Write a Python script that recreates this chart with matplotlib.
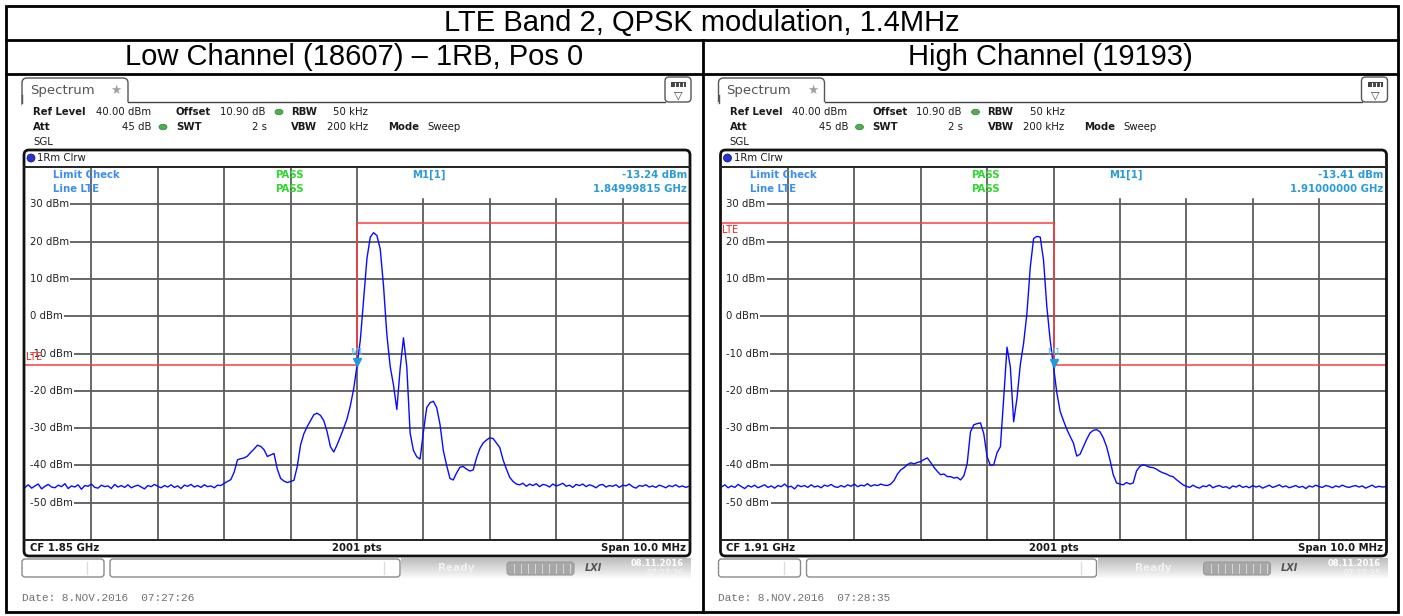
import numpy as np
import matplotlib.pyplot as plt
from matplotlib.patches import FancyBboxPatch, Rectangle, Ellipse

W, H = 1403, 616

# frequency offset from CF (MHz), one sample every 50 kHz across the 10 MHz span
offset_mhz = np.round(np.arange(-5, 5.001, 0.05), 2)

# low channel (18607) trace, dBm
low_level = [
    -45.9, -45.2, -46.1, -45.5, -45.0, -46.3, -45.6, -45.1, -45.8, -46.0,
    -45.3, -45.7, -44.9, -46.2, -45.5, -45.8, -45.2, -46.4, -45.4, -45.6,
    -45.0, -45.9, -46.1, -45.3, -45.7, -45.5, -46.2, -45.1, -45.8, -45.4,
    -45.9, -45.2, -46.0, -45.6, -45.3, -45.8, -46.3, -45.4, -45.7, -45.1,
    -45.6, -46.0, -45.4, -45.8, -45.2, -45.9, -45.5, -46.2, -45.3, -45.6,
    -45.1, -45.8, -45.4, -45.9, -45.2, -45.7, -45.5, -46.0, -45.3, -45.4,
    -44.8, -44.3, -43.8, -41.8, -38.5, -38.2, -38.0, -37.5, -36.5, -35.6,
    -34.6, -34.9, -35.8, -37.6, -37.2, -36.8, -41.0, -43.5, -44.2, -44.6,
    -44.3, -44.0, -40.3, -34.5, -31.5, -29.6, -28.0, -26.4, -26.0, -26.6,
    -28.0, -31.0, -35.0, -36.4, -34.5, -32.3, -30.0, -27.5, -24.0, -19.5,
    -13.24,
    -6.4, 4.5, 15.5, 21.2, 22.4, 21.6, 18.0, 8.0, -5.0, -13.5,
    -18.5, -25.0, -14.0, -5.8, -13.6, -31.3, -36.0, -37.7, -38.3, -31.0,
    -24.5, -23.2, -22.8, -24.5, -29.0, -36.0, -40.0, -43.5, -43.9, -42.0,
    -40.5, -40.3, -41.0, -41.5, -41.2, -38.0, -35.5, -34.0, -33.2, -32.6,
    -32.8, -34.0, -35.2, -38.5, -41.0, -43.2, -44.3, -45.0,
    -45.2, -44.8, -45.6, -45.0, -45.4, -44.9, -45.7, -45.1, -45.3, -45.8,
    -45.0, -45.5, -45.2, -44.8, -45.6, -45.3, -45.9, -45.1, -45.4, -45.0,
    -45.7, -45.2, -45.5, -46.0, -45.3, -45.1, -45.8, -45.4, -45.6, -45.2,
    -45.9, -45.3, -45.5, -45.0, -45.7, -46.1, -45.4, -45.6, -45.2, -45.8,
    -45.5, -45.9, -45.3, -45.6, -46.0, -45.4, -45.7, -45.2, -45.8, -45.5,
    -45.9, -45.6,
]

# high channel (19193) trace, dBm
high_level = [
    -45.8, -45.2, -46.0, -45.5, -45.9, -45.1, -45.7, -46.2, -45.4, -45.8,
    -45.3, -46.0, -45.6, -45.2, -45.9, -45.5, -46.1, -45.4, -45.7, -45.0,
    -45.8, -45.6, -46.3, -45.3, -45.7, -45.4, -45.9, -45.2, -45.8, -45.5,
    -46.0, -45.3, -45.6, -45.1, -45.7, -45.9, -45.4, -45.8, -45.2, -45.6,
    -45.0, -45.7, -45.3, -45.5, -44.9, -45.6, -45.2, -45.4, -45.0, -45.3,
    -45.4,
    -45.0, -44.0, -42.3, -41.2, -40.6, -39.8, -39.3, -39.6, -39.2, -39.0,
    -38.4, -38.0, -39.2, -40.5, -41.6, -42.5, -42.3, -43.0, -43.0, -43.4,
    -43.2, -43.9, -42.8, -39.5, -31.0, -29.1, -28.8, -28.6, -31.5, -37.7,
    -40.0, -39.8, -36.6, -35.0, -22.0, -8.3, -13.6, -28.3, -22.0, -13.0,
    -7.2, 0.8, 13.1, 20.8, 21.4, 21.2, 15.0, 2.5, -6.4,
    -13.41,
    -20.5, -25.5, -28.0, -30.3, -32.2, -34.0, -37.5, -37.0, -35.0, -33.0,
    -31.3, -30.6, -30.4, -31.0, -32.6, -35.0, -38.5, -42.5, -44.7, -45.0,
    -45.2, -44.6, -45.0, -44.7, -41.5, -40.3, -39.8, -40.1, -40.5, -40.6,
    -41.0, -41.6, -42.0, -42.3, -42.8, -43.0, -43.8, -44.5, -45.2,
    -45.6, -45.9, -45.3, -45.8, -46.1, -45.5, -45.7, -45.2, -46.0, -45.6,
    -45.4, -45.9, -45.7, -46.2, -45.5, -45.8, -45.3, -45.9, -45.6, -46.0,
    -45.4, -45.8, -45.5, -46.1, -45.7, -45.3, -45.9, -45.6, -45.2, -45.8,
    -45.5, -46.0, -45.7, -45.4, -45.9, -45.6, -46.2, -45.5, -45.8, -45.3,
    -45.7, -45.9, -45.4, -45.6, -46.0, -45.5, -45.8, -45.3, -45.7, -45.9,
    -45.6, -45.4, -45.8, -45.5, -46.1, -45.7, -45.3, -45.9, -45.6, -45.8,
    -45.7,
]

# limit line "LTE" (MHz offset, dBm)
limit_f = [-5, 0, 0, 5]
low_limit_db = [-13, -13, 25, 25]
high_limit_db = [25, 25, -13, -13]

grid_db = [-50, -40, -30, -20, -10, 0, 10, 20, 30]

title = "LTE Band 2, QPSK modulation, 1.4MHz"
panels = [
    dict(head="Low Channel (18607) \u2013 1RB, Pos 0", level=low_level, limit=low_limit_db,
         mk="-13.24", mk_freq="1.84999815 GHz", cf="CF 1.85 GHz",
         date="Date: 8.NOV.2016  07:27:26", clock="07:27:26", lte_y=-10.9),
    dict(head="High Channel (19193)", level=high_level, limit=high_limit_db,
         mk="-13.41", mk_freq="1.91000000 GHz", cf="CF 1.91 GHz",
         date="Date: 8.NOV.2016  07:28:35", clock="07:28:35", lte_y=23.0),
]

fig = plt.figure(figsize=(W / 100, H / 100), dpi=100, facecolor="white")

BLUE = "#2a9bd8"
LBLUE = "#3d8ef0"
GREEN = "#2fd62f"
RED = "#ff3b3b"
TXT = dict(fontsize=7.3, color="#1a1a1a", va="center")
BOLD = dict(TXT, fontweight="bold")

for k, p in enumerate(panels):
    dx = 696.5 * k
    # plot area of the analyzer screen, in pixels
    x0, x1, y0, y1 = 25 + dx, 689 + dx, 167, 540
    ax = fig.add_axes([x0 / W, 1 - y1 / H, (x1 - x0) / W, (y1 - y0) / H])
    ax.set_xlim(-5, 5)
    ax.set_ylim(-60, 40)
    ax.set_xticks(np.arange(-4, 5))
    ax.set_yticks(grid_db)
    ax.grid(True, color="#5c5c5c", lw=1.3)
    ax.set_axisbelow(True)
    ax.tick_params(length=0, labelleft=False, labelbottom=False)
    for s in ax.spines.values():
        s.set_visible(False)
    ax.patch.set_alpha(0)
    # marker readout box hides the grid at the top right
    ax.add_patch(Rectangle((0.04, 31.9), 5, 9, color="white", zorder=1.5))
    ytr = ax.get_yaxis_transform()
    for v in grid_db:
        ax.add_patch(Rectangle((0, v - 1.2), 0.01, 2.4, transform=ytr, fc="white", ec="none", zorder=1.8))
        ax.text(0.0075, v, f"{v} dBm", transform=ytr, ha="left",
                fontsize=7.3, color="#222", va="center", zorder=2,
                bbox=dict(boxstyle="square,pad=0.12", fc="white", ec="none"))
    ax.plot(limit_f, p["limit"], color=RED, lw=1.1, zorder=3)
    ax.plot(offset_mhz, p["level"], color="#0a0aff", lw=1.0, zorder=4)
    mk_db = float(p["mk"])
    ax.plot([0], [mk_db + 0.9], marker="v", ms=6, color="#1e9be0", mec="#1e9be0", zorder=5)
    ax.text(0, mk_db + 3.6, "M1", ha="center", va="center", fontsize=6.5, color="#55b4e8", zorder=5)
    ax.text(0.001, p["lte_y"], "LTE", transform=ytr, ha="left", va="center",
            fontsize=7, color="#ff2020", zorder=6)

# overlay in pixel coordinates for the screen furniture and the table
ov = fig.add_axes([0, 0, 1, 1])
ov.patch.set_alpha(0)
ov.axis("off")

for k, p in enumerate(panels):
    dx = 696.5 * k
    # spectrum tab
    ov.add_patch(FancyBboxPatch((22 + dx, 78), 106, 30, boxstyle="round,pad=0,rounding_size=5",
                                fc="white", ec="#555", lw=1))
    ov.add_patch(Rectangle((21.6 + dx, 102.2), 107, 8, fc="white", ec="none"))
    ov.plot([22 + dx, 22 + dx], [95, 103], color="#555", lw=1)
    ov.plot([128 + dx, 665 + dx], [101.5, 101.5], color="#444", lw=1)
    ov.text(30 + dx, 90.5, "Spectrum", fontsize=9.5, color="#555", va="center")
    ov.text(116 + dx, 90, "\u2605", fontsize=9, color="#a0a0a0", ha="center", va="center")
    # menu icon
    ov.add_patch(FancyBboxPatch((665 + dx, 77), 26, 25, boxstyle="round,pad=0,rounding_size=4",
                                fc="white", ec="#555", lw=1))
    ov.add_patch(Rectangle((671 + dx, 81.5), 15, 5, fc="#444", ec="none"))
    for t in (675, 679, 683):
        ov.plot([t + dx, t + dx], [82.5, 85.5], color="white", lw=0.8)
    ov.text(678.5 + dx, 95, "\u25bd", fontsize=8, color="#444", ha="center", va="center")

    # settings block
    ov.text(33 + dx, 112, "Ref Level", **BOLD)
    ov.text(96 + dx, 112, "40.00 dBm", **TXT)
    ov.text(176 + dx, 112, "Offset", **BOLD)
    ov.text(220 + dx, 112, "10.90 dB", **TXT)
    ov.add_patch(Ellipse((279 + dx, 112), 8, 5.5, fc="#4caf50", ec="#2e7d32", lw=0.5))
    ov.text(291 + dx, 112, "RBW", **BOLD)
    ov.text(368 + dx, 112, "50 kHz", ha="right", **TXT)
    ov.text(33 + dx, 127, "Att", **BOLD)
    ov.text(152 + dx, 127, "45 dB", ha="right", **TXT)
    ov.add_patch(Ellipse((163 + dx, 127), 8, 5.5, fc="#4caf50", ec="#2e7d32", lw=0.5))
    ov.text(176 + dx, 127, "SWT", **BOLD)
    ov.text(267 + dx, 127, "2 s", ha="right", **TXT)
    ov.text(291 + dx, 127, "VBW", **BOLD)
    ov.text(368 + dx, 127, "200 kHz", ha="right", **TXT)
    ov.text(388 + dx, 127, "Mode", **BOLD)
    ov.text(427 + dx, 127, "Sweep", **TXT)
    ov.text(33 + dx, 142, "SGL", **TXT)

    # diagram frame
    ov.add_patch(FancyBboxPatch((24 + dx, 150), 666, 406, boxstyle="round,pad=0,rounding_size=5",
                                fc="none", ec="#111", lw=2))
    ov.plot([24 + dx, 690 + dx], [167, 167], color="#222", lw=1.4)
    ov.plot([24 + dx, 690 + dx], [540, 540], color="#222", lw=1.4)
    ov.add_patch(Ellipse((31 + dx, 158), 8, 8, fc="#2233dd", ec="#111144", lw=0.5))
    ov.text(37 + dx, 158, "1Rm Clrw", **TXT)

    # limit check / marker readout
    ov.text(53 + dx, 175, "Limit Check", fontsize=7.3, color=LBLUE, fontweight="bold", va="center")
    ov.text(53 + dx, 189, "Line LTE", fontsize=7.3, color=LBLUE, fontweight="bold", va="center")
    ov.text(289 + dx, 175, "PASS", fontsize=7.3, color=GREEN, fontweight="bold", va="center", ha="center")
    ov.text(289 + dx, 189, "PASS", fontsize=7.3, color=GREEN, fontweight="bold", va="center", ha="center")
    ov.text(429 + dx, 175, "M1[1]", fontsize=7.3, color=BLUE, fontweight="bold", va="center", ha="center")
    ov.text(687 + dx, 175, p["mk"] + " dBm", fontsize=7.3, color=BLUE, fontweight="bold", va="center", ha="right")
    ov.text(687 + dx, 189, p["mk_freq"], fontsize=7.3, color=BLUE, fontweight="bold", va="center", ha="right")

    # footer of the diagram
    ov.text(30 + dx, 548, p["cf"], **BOLD)
    ov.text(357 + dx, 548, "2001 pts", ha="center", **BOLD)
    ov.text(686 + dx, 548, "Span 10.0 MHz", ha="right", **BOLD)

    # status bar
    ov.add_patch(FancyBboxPatch((22 + dx, 559), 82, 18, boxstyle="round,pad=0,rounding_size=3",
                                fc="white", ec="#8a8a8a", lw=1))
    ov.plot([87 + dx, 87 + dx], [562, 574], color="#dddddd", lw=1)
    ov.add_patch(FancyBboxPatch((110 + dx, 559), 290, 18, boxstyle="round,pad=0,rounding_size=3",
                                fc="white", ec="#8a8a8a", lw=1))
    ov.plot([384 + dx, 384 + dx], [562, 574], color="#dddddd", lw=1)
    grad = np.linspace(0.74, 0.97, 20).reshape(-1, 1)
    ov.imshow(grad, extent=[401 + dx, 691 + dx, 578, 558], aspect="auto", cmap="gray",
              vmin=0, vmax=1, zorder=0.5)
    ov.text(438 + dx, 568, "Ready", fontsize=7.5, color="#f2f2f2", fontweight="bold", va="center")
    ov.add_patch(FancyBboxPatch((507 + dx, 562), 67, 13, boxstyle="round,pad=0,rounding_size=3",
                                fc="#a8a8a8", ec="#9a9a9a", lw=0.8))
    for t in range(514, 572, 7):
        ov.plot([t + dx, t + dx], [564, 573], color="#d8d8d8", lw=0.7)
    ov.text(593 + dx, 568, "LXI", fontsize=7, color="#555", fontweight="bold", style="italic",
            va="center", ha="center")
    ov.text(684 + dx, 564, "08.11.2016", fontsize=6, color="white", fontweight="bold", va="center", ha="right")
    ov.text(684 + dx, 574, p["clock"], fontsize=6, color="#f6f6f6", va="center", ha="right")

    ov.text(22 + dx, 598, p["date"], family="Liberation Mono", fontsize=8, color="#707070", va="center")

# table around the two screenshots
ov.add_patch(Rectangle((5.5, 5.5), 1392, 606, fc="none", ec="black", lw=2))
ov.plot([5.5, 1397.5], [40, 40], color="black", lw=2)
ov.plot([5.5, 1397.5], [73.5, 73.5], color="black", lw=2)
ov.plot([703, 703], [40, 611.5], color="black", lw=2)
ov.text(701.5, 22.5, title, family="Liberation Sans", fontsize=21, ha="center", va="center")
ov.text(354, 57, panels[0]["head"], family="Liberation Sans", fontsize=21, ha="center", va="center")
ov.text(1050, 57, panels[1]["head"], family="Liberation Sans", fontsize=21, ha="center", va="center")

ov.set_xlim(0, W)
ov.set_ylim(H, 0)

fig.savefig("out.png", dpi=100, facecolor="white")
